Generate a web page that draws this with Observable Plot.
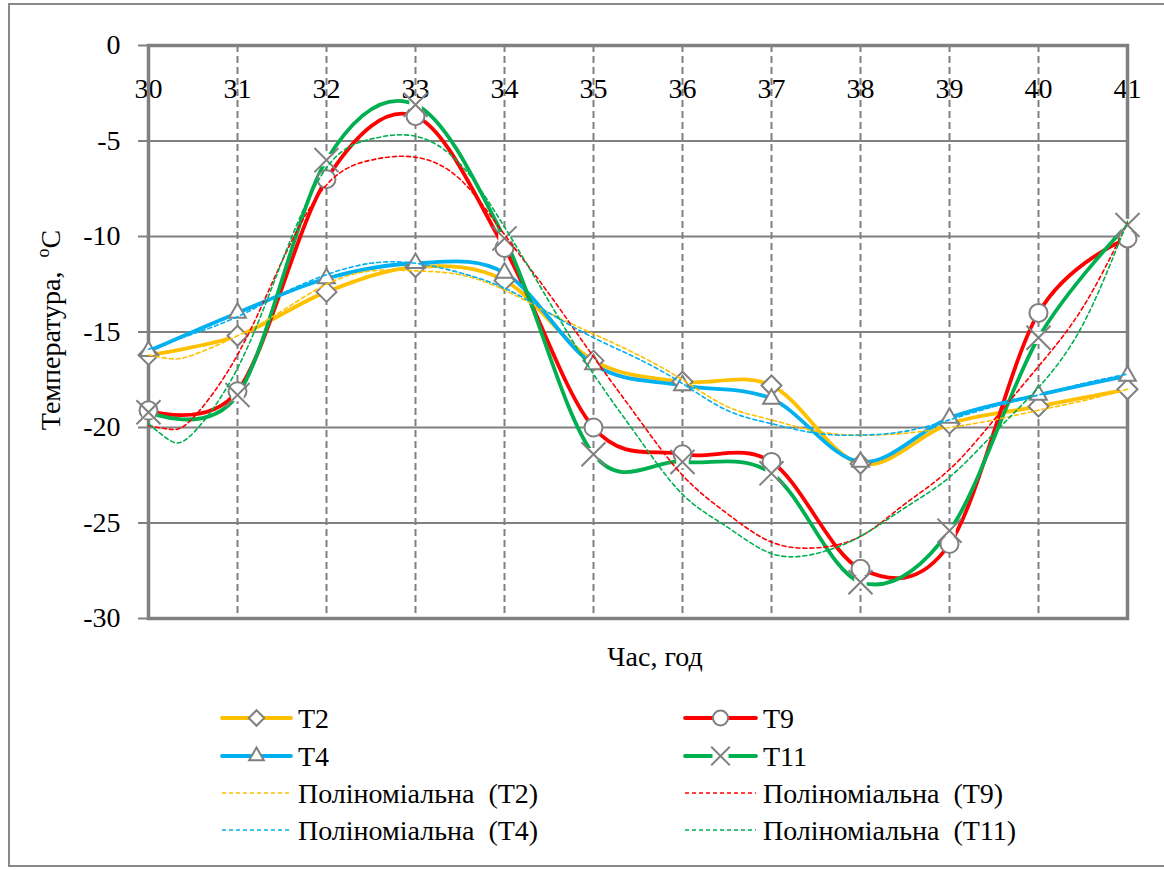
<!DOCTYPE html>
<html><head><meta charset="utf-8">
<script src="https://cdn.jsdelivr.net/npm/d3@7"></script>
<script src="https://cdn.jsdelivr.net/npm/@observablehq/plot@0.6"></script>
<style>
body{margin:0;background:#fff;font-family:"Liberation Serif","Times New Roman",Tinos,"DejaVu Serif",serif;}
#wrap{position:relative;width:1164px;height:870px;overflow:hidden;}
#border{position:absolute;left:8px;top:3px;width:1170px;height:864px;border:2px solid #898989;box-sizing:border-box;}
#chart{position:absolute;left:0;top:0;}
#ytitle{position:absolute;left:50px;top:330px;transform:translate(-50%,-50%) rotate(-90deg);font-size:28px;white-space:nowrap;color:#000;}
#ytitle sup{font-size:18px;}
#xtitle{position:absolute;left:655px;top:657px;transform:translate(-50%,-50%);font-size:28px;white-space:nowrap;color:#000;}
#legend{position:absolute;left:0;top:690px;}
svg text{font-family:"Liberation Serif","Times New Roman",Tinos,"DejaVu Serif",serif !important;}
</style></head>
<body><div id="wrap"><div id="border"></div><div id="chart"></div>
<div id="ytitle">Температура,&nbsp; <sup>o</sup>С</div>
<div id="xtitle">Час, год</div>
<div id="legend"></div></div>
<script>
const hours = [30,31,32,33,34,35,36,37,38,39,40,41];
const yTicks = [0,-5,-10,-15,-20,-25,-30];
const T2  = [-16.2,-15.2,-12.9,-11.6,-12.3,-16.5,-17.6,-17.8,-21.9,-19.8,-18.9,-18.0];
const T4  = [-16.0,-14.0,-12.2,-11.4,-11.9,-16.7,-17.8,-18.5,-21.8,-19.5,-18.3,-17.3];
const T9  = [-19.1,-18.1,-7.0,-3.7,-10.6,-20.0,-21.4,-21.8,-27.4,-26.1,-14.0,-10.1];
const T11 = [-19.2,-18.3,-6.0,-3.1,-10.1,-21.4,-21.8,-22.4,-28.1,-25.4,-15.3,-9.4];

const trendHours = [30,30.25,30.5,31,31.5,32,32.5,33,33.5,34,34.5,35,35.5,36,36.5,37,37.5,38,38.5,39,39.5,40,40.5,41];
const P2  = [-16.2,-16.4,-16.2,-15.2,-13.9,-12.5,-11.8,-11.8,-12.0,-12.8,-14.0,-15.1,-16.2,-17.5,-18.9,-19.6,-20.2,-20.4,-20.3,-20.0,-19.6,-19.1,-18.6,-18.0];
const P4  = [-15.9,-15.5,-15.1,-14.2,-13.0,-12.0,-11.4,-11.4,-11.9,-12.7,-14.0,-15.3,-16.4,-17.7,-19.1,-19.8,-20.3,-20.4,-20.2,-19.6,-18.9,-18.3,-17.7,-17.2];
const P9  = [-19.9,-20.1,-19.5,-16.2,-11.3,-7.3,-6.0,-5.85,-7.0,-9.9,-13.0,-16.3,-19.5,-22.5,-24.5,-26.0,-26.3,-25.7,-24.0,-22.2,-19.6,-16.8,-13.7,-9.3];
const P11 = [-19.8,-20.7,-20.3,-16.9,-11.3,-6.4,-4.9,-4.75,-6.2,-9.5,-13.4,-17.2,-20.5,-23.5,-25.2,-26.6,-26.6,-25.7,-24.2,-22.6,-20.3,-17.9,-14.6,-9.2];

const seriesNames = ["T2","T9","T4","T11"];
const seriesValues = [T2,T9,T4,T11];
const trendValues = [P2,P9,P4,P11];
const seriesColors = ["#FFC000","#FF0000","#00B0F0","#00B050"];
const seriesSymbols = ["diamond2","circle","triangle2","times"];
const trendLabels = ["Поліноміальна  (T2)","Поліноміальна  (T9)","Поліноміальна  (T4)","Поліноміальна  (T11)"];

const FONT = "'Liberation Serif','Times New Roman',Tinos,'DejaVu Serif',serif";
const markerGray = "#808080";
const symR = {diamond2:9, circle:9, triangle2:8, times:11};

const lineMarks = [], markerMarks = [], trendMarks = [];
seriesNames.forEach((name,i)=>{
  const rows = hours.map((h,j)=>({hour:h, temp:seriesValues[i][j]}));
  lineMarks.push(Plot.line(rows,{x:"hour",y:"temp",stroke:seriesColors[i],strokeWidth:3.8,curve:"cardinal",tension:0}));
  const sym = seriesSymbols[i];
  if (sym==="times") {
    markerMarks.push(Plot.dot(rows,{x:"hour",y:"temp",symbol:"square",r:7,fill:"white",stroke:"none"}));
    markerMarks.push(Plot.dot(rows,{x:"hour",y:"temp",symbol:"times",r:symR[sym],stroke:markerGray,strokeWidth:2}));
  } else {
    markerMarks.push(Plot.dot(rows,{x:"hour",y:"temp",symbol:sym,r:symR[sym],fill:"white",stroke:markerGray,strokeWidth:2}));
  }
  const trows = trendHours.map((h,j)=>({hour:h, temp:trendValues[i][j]}));
  trendMarks.push(Plot.line(trows,{x:"hour",y:"temp",stroke:seriesColors[i],strokeWidth:1.6,strokeDasharray:"4,3",curve:"natural"}));
});

const plot = Plot.plot({
  width:1164, height:680,
  marginLeft:148, marginRight:37, marginTop:45, marginBottom:62,
  x:{domain:[30,41]},
  y:{domain:[-30,0]},
  style:{fontFamily:FONT, fontSize:"28px", color:"#000", background:"transparent"},
  marks:[
    Plot.gridY(yTicks.filter(v=>v>-30&&v<0),{stroke:"#808080",strokeOpacity:1,strokeWidth:2}),
    Plot.gridX(hours.filter(h=>h>30&&h<41),{stroke:"#808080",strokeOpacity:1,strokeWidth:2,strokeDasharray:"7,4"}),
    Plot.axisY({ticks:yTicks,tickSize:10,tickPadding:18,stroke:"#808080",strokeWidth:2,fontSize:28,label:null,tickFormat:d=>String(d)}),
    Plot.axisX({anchor:"top",ticks:hours,tickSize:0,tickPadding:0,dy:52,fontSize:28,label:null,tickFormat:d=>String(d)}),
    Plot.frame({stroke:"#808080",strokeWidth:3.5}),
    ...lineMarks,
    ...markerMarks,
    ...trendMarks
  ]
});
document.getElementById("chart").appendChild(plot);

// legend
const lg = d3.select("#legend").append("svg").attr("width",1164).attr("height",178)
  .style("font-family",FONT).style("font-size","28px");
const symMap = {diamond2:d3.symbolDiamond2, circle:d3.symbolCircle, triangle2:d3.symbolTriangle2, times:d3.symbolTimes};
const legR = {diamond2:7, circle:7.5, triangle2:7, times:8.5};
const cols = [{x0:222,x1:291,tx:298},{x0:685,x1:756,tx:763}];
const rowsY = [28,66,103,140];
seriesNames.forEach((name,i)=>{
  const c = cols[i%2], ry = rowsY[Math.floor(i/2)];
  const g = lg.append("g");
  g.append("line").attr("x1",c.x0).attr("x2",c.x1).attr("y1",ry).attr("y2",ry)
    .attr("stroke",seriesColors[i]).attr("stroke-width",3.8).attr("stroke-linecap","round");
  const sym = seriesSymbols[i], cx=(c.x0+c.x1)/2, r=legR[sym];
  if (sym==="times") {
    g.append("rect").attr("x",cx-8).attr("y",ry-8).attr("width",16).attr("height",16).attr("fill","white");
    g.append("path").attr("d",d3.symbol(symMap[sym],Math.PI*r*r)()).attr("transform",`translate(${cx},${ry})`)
      .attr("fill","none").attr("stroke",markerGray).attr("stroke-width",2);
  } else {
    g.append("path").attr("d",d3.symbol(symMap[sym],Math.PI*r*r)()).attr("transform",`translate(${cx},${ry})`)
      .attr("fill","white").attr("stroke",markerGray).attr("stroke-width",2);
  }
  g.append("text").attr("x",c.tx).attr("y",ry).attr("dy","0.35em").attr("fill","#000").text(name);

  const ty = rowsY[2+Math.floor(i/2)];
  lg.append("line").attr("x1",c.x0).attr("x2",c.x1).attr("y1",ty).attr("y2",ty)
    .attr("stroke",seriesColors[i]).attr("stroke-width",1.6).attr("stroke-dasharray","4,3");
  lg.append("text").attr("x",c.tx).attr("y",ty).attr("dy","0.35em").attr("fill","#000").style("white-space","pre").text(trendLabels[i]);
});
</script></body></html>
